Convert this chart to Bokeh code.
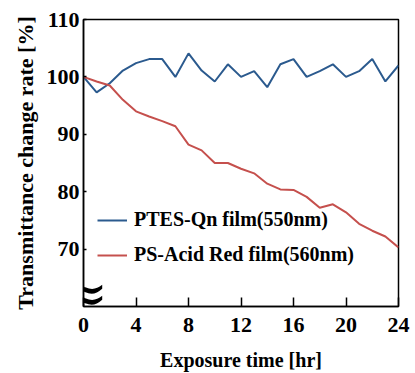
from bokeh.plotting import figure
from bokeh.models import Range1d, FixedTicker, Legend, LegendItem, Label
from bokeh.embed import file_html
from bokeh.resources import INLINE

hours = list(range(25))
ptes_qn = [100, 97.3, 98.9, 101.1, 102.4, 103.1, 103.1, 100, 104.1, 101.1, 99.2, 102.2, 100,
           101, 98.2, 102.2, 103.1, 100, 101, 102.2, 100, 101, 103.1, 99.2, 102]
ps_acid = [100, 99.2, 98.5, 96, 94, 93.1, 92.3, 91.4, 88.2, 87.2, 85, 85, 84,
           83.2, 81.4, 80.4, 80.3, 79.1, 77.2, 77.8, 76.4, 74.4, 73.2, 72.2, 70.3]
x_ticks = [0, 4, 8, 12, 16, 20, 24]
y_ticks = [70, 80, 90, 100, 110]
series_names = ["PTES-Qn film(550nm)", "PS-Acid Red film(560nm)"]

FONT = "Liberation Serif"

p = figure(width=415, height=373, output_backend="svg", toolbar_location=None,
           x_range=Range1d(0, 24), y_range=Range1d(60, 110),
           min_border_left=83, min_border_right=17, min_border_top=19, min_border_bottom=66)
p.grid.visible = False
p.outline_line_color = "black"
p.outline_line_width = 1.5

r1 = p.line(hours, ptes_qn, line_color="#2b5a8e", line_width=2)
r2 = p.line(hours, ps_acid, line_color="#c5504d", line_width=2)

for ax in (p.xaxis[0], p.yaxis[0]):
    ax.axis_line_color = "black"
    ax.axis_line_width = 1.5
    ax.major_tick_line_color = "black"
    ax.major_tick_line_width = 1.5
    ax.minor_tick_line_color = None
    ax.major_tick_out = 0
    ax.major_label_text_font = FONT
    ax.major_label_text_font_style = "bold"
    ax.major_label_text_font_size = "22px"
    ax.major_label_text_color = "black"
    ax.axis_label_text_font = FONT
    ax.axis_label_text_font_style = "bold"
    ax.axis_label_text_color = "black"

p.xaxis.ticker = FixedTicker(ticks=x_ticks)
p.yaxis.ticker = FixedTicker(ticks=y_ticks)
p.xaxis.major_tick_in = 9
p.yaxis.major_tick_in = 3
p.xaxis.axis_label = "Exposure time [hr]"
p.yaxis.axis_label = "Transmittance change rate [%]"
p.xaxis.axis_label_text_font_size = "20px"
p.yaxis.axis_label_text_font_size = "22px"
p.xaxis.major_label_standoff = 11
p.xaxis.axis_label_standoff = 14
p.yaxis.major_label_standoff = 4
p.yaxis.axis_label_standoff = 6

legend = Legend(items=[LegendItem(label=series_names[0], renderers=[r1]),
                       LegendItem(label=series_names[1], renderers=[r2])],
                location=(14, 40), padding=0, margin=0, spacing=12,
                glyph_width=30, glyph_height=20, label_standoff=7,
                background_fill_alpha=0, border_line_color=None,
                label_text_font=FONT, label_text_font_style="bold",
                label_text_font_size="20px", label_text_color="black")
p.add_layout(legend)

BREAK_POS = (0.05, 62.4)
brk = Label(x=BREAK_POS[0], y=BREAK_POS[1], text="\u2248", text_font="DejaVu Serif",
            text_font_style="normal", text_font_size="58px", text_align="center",
            text_baseline="middle", text_color="black")
p.add_layout(brk)

open("out.html", "w").write(file_html(p, INLINE))
